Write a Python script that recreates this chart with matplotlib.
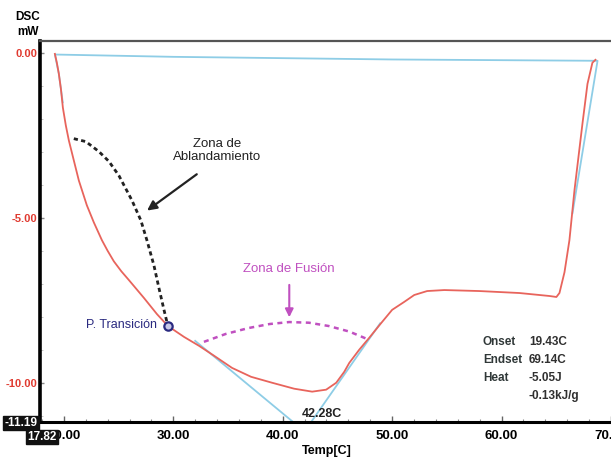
import numpy as np
import matplotlib
matplotlib.use("Agg")
import matplotlib.pyplot as plt
from matplotlib.ticker import MultipleLocator

plt.rcParams['font.family'] = ['Liberation Sans Narrow', 'Liberation Sans', 'DejaVu Sans']

# curva DSC (rojo)
temp_dsc = [19.18, 19.36, 19.54, 19.73, 19.91, 20.18, 20.46, 20.91, 21.37, 22.10, 22.74,
            23.48, 24.0, 24.57, 25.25, 25.95, 27.32, 28.51, 29.51, 30.98, 32.35, 33.72,
            35.37, 37.11, 39.03, 41.04, 42.69, 43.97, 44.89, 45.62, 46.08, 46.99, 47.9,
            49.0, 50.0, 51.1, 52.02, 53.2, 54.77, 57.97, 61.63, 64.37, 65.01, 65.29,
            65.75, 66.2, 66.66, 67.39, 67.85, 68.3, 68.58]
dsc_mw = [-0.03, -0.30, -0.63, -1.09, -1.66, -2.20, -2.66, -3.26, -3.87, -4.62, -5.14,
          -5.68, -6.0, -6.32, -6.62, -6.89, -7.43, -7.92, -8.28, -8.61, -8.88, -9.18,
          -9.55, -9.82, -10.0, -10.18, -10.27, -10.21, -10.0, -9.67, -9.40, -9.00, -8.64,
          -8.19, -7.79, -7.55, -7.34, -7.22, -7.19, -7.22, -7.28, -7.37, -7.40, -7.28,
          -6.65, -5.68, -4.17, -2.15, -0.94, -0.30, -0.21]

# linea base y tangentes (azul)
base_t = [19.9, 19.54, 19.18, 30.0, 50.0, 68.77, 66.48]
base_v = [-1.5, -0.63, -0.05, -0.12, -0.2, -0.24, -4.86]
tan1_t = [32.0, 40.95]
tan1_v = [-8.73, -11.19]
tan2_t = [48.9, 42.6]
tan2_v = [-8.2, -11.19]

# zona de ablandamiento (negro punteado)
abl_t = [20.91, 22.01, 23.2, 24.12, 25.03, 26.22, 27.04, 27.59, 28.23, 28.69, 29.15, 29.42]
abl_v = [-2.60, -2.69, -2.99, -3.29, -3.72, -4.47, -5.08, -5.68, -6.44, -7.13, -7.79, -8.16]

# zona de fusion (magenta punteado)
fus_t = [32.8, 34.8, 36.9, 38.8, 40.6, 42.4, 44.2, 46.1, 47.9]
fus_v = [-8.76, -8.52, -8.34, -8.22, -8.16, -8.18, -8.28, -8.45, -8.7]

trans_t, trans_v = 29.5, -8.28

fig = plt.figure(figsize=(6.11, 4.57), dpi=100)
ax = fig.add_axes([40 / 611, 1 - 422 / 457, 571 / 611, 381 / 457])

red = '#e8645c'
blue = '#8ecde6'
ax.plot(base_t, base_v, color=blue, lw=1.3)
ax.plot(tan1_t, tan1_v, color=blue, lw=1.3)
ax.plot(tan2_t, tan2_v, color=blue, lw=1.3)
ax.plot(temp_dsc, dsc_mw, color=red, lw=1.3)
ax.plot(abl_t, abl_v, color='#222222', lw=2, ls=(0, (1.5, 1.2)))
ax.plot(fus_t, fus_v, color='#c050c0', lw=1.8, ls=(0, (2, 1.8)))
ax.plot([trans_t], [trans_v], 'o', mfc='#c8c8e8', mec='#2a2a80', mew=1.6, ms=6)

ax.text(28.5, -8.25, 'P. Transición', color='#2a2a80', fontsize=9,
        family=['Liberation Sans', 'DejaVu Sans'], ha='right', va='center')

ax.annotate('', xy=(27.4, -4.83), xytext=(32.35, -3.63),
            arrowprops=dict(arrowstyle='-|>', color='#222222', lw=1.6, mutation_scale=14))
ax.text(34.0, -2.95, 'Zona de\nAblandamiento', color='#222222', fontsize=9.5,
        family=['Liberation Sans', 'DejaVu Sans'], ha='center', va='center',
        linespacing=1.1)

ax.annotate('', xy=(40.6, -8.1), xytext=(40.6, -6.95),
            arrowprops=dict(arrowstyle='-|>', color='#c050c0', lw=1.5, mutation_scale=12))
ax.text(40.6, -6.55, 'Zona de Fusión', color='#c050c0', fontsize=9.5,
        family=['Liberation Sans', 'DejaVu Sans'], ha='center', va='center')

ax.text(43.6, -10.95, '42.28C', color='#222222', fontsize=9, fontweight='bold',
        ha='center', va='center')

info = [('Onset', '19.43C'), ('Endset', '69.14C'), ('Heat', '-5.05J'), ('', '-0.13kJ/g')]
for i, (k, val) in enumerate(info):
    yv = -8.76 - i * 0.55
    ax.text(58.3, yv, k, color='#303838', fontsize=8.5, fontweight='bold', va='center')
    ax.text(62.5, yv, val, color='#303030', fontsize=8.5, fontweight='bold', va='center')

ax.set_xlim(17.82, 70.0)
ax.set_ylim(-11.19, 0.36)
ax.xaxis.set_major_locator(MultipleLocator(10))
ax.xaxis.set_minor_locator(MultipleLocator(2))
ax.yaxis.set_major_locator(MultipleLocator(5))
ax.yaxis.set_minor_locator(MultipleLocator(1))
ax.set_xticks([20, 30, 40, 50, 60, 70])
ax.set_xticklabels(['20.00', '30.00', '40.00', '50.00', '60.00', '70.00'])
ax.set_yticks([0, -5, -10])
ax.set_yticklabels(['0.00', '-5.00', '-10.00'])
ax.tick_params(axis='x', which='major', direction='in', length=4, width=1, color='#666666',
               labelsize=9.5, pad=6)
ax.tick_params(axis='x', which='minor', direction='in', length=2.5, width=0.8, color='#888888')
ax.tick_params(axis='y', which='major', direction='in', length=3, width=1, color='#888888',
               labelsize=8, labelcolor='#e03a30', pad=2)
ax.tick_params(axis='y', which='minor', direction='in', length=2, width=0.6, color='#bbbbbb')
for lab in ax.get_xticklabels() + ax.get_yticklabels():
    lab.set_fontweight('bold')

ax.spines['left'].set_linewidth(2.6)
ax.spines['bottom'].set_linewidth(2.2)
ax.spines['top'].set_linewidth(1.6)
ax.spines['top'].set_color('#555555')
ax.spines['right'].set_visible(False)

fig.text(28 / 611, 1 - 17 / 457, 'DSC', fontsize=8.5, fontweight='bold', ha='center', va='center')
fig.text(28 / 611, 1 - 32 / 457, 'mW', fontsize=8.5, fontweight='bold', ha='center', va='center')
fig.text(327 / 611, 1 - 451 / 457, 'Temp[C]', fontsize=9, fontweight='bold', ha='center', va='center')

box = dict(boxstyle='square,pad=0.12', fc='#111111', ec='#111111')
fig.text(21 / 611, 1 - 423 / 457, '-11.19', color='white', fontsize=8.5, fontweight='bold',
         ha='center', va='center', bbox=box, zorder=10)
fig.text(42 / 611, 1 - 437 / 457, '17.82', color='white', fontsize=8.5, fontweight='bold',
         ha='center', va='center', bbox=box, zorder=10)

fig.savefig('out.png', dpi=100)
